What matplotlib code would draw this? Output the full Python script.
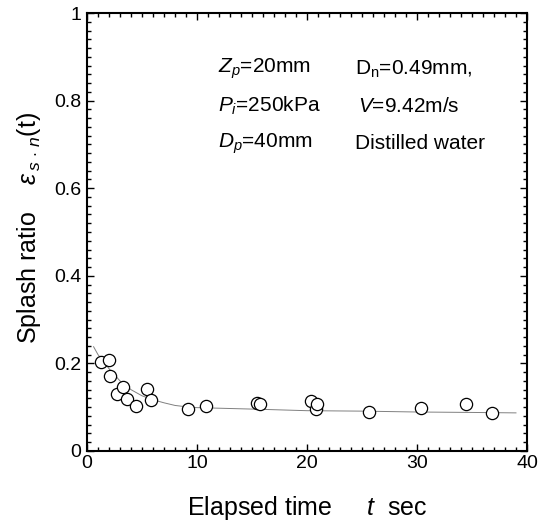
import matplotlib
matplotlib.use("Agg")
import matplotlib.pyplot as plt
from matplotlib.ticker import MultipleLocator

plt.rcParams['font.family'] = ['Liberation Sans', 'DejaVu Sans']
plt.rcParams['mathtext.fontset'] = 'custom'
plt.rcParams['mathtext.rm'] = 'Liberation Sans'
plt.rcParams['mathtext.it'] = 'Liberation Sans:italic'

# measured splash ratio
t_meas = [1.25, 2.0, 2.1, 2.7, 3.3, 3.6, 4.5, 5.5, 5.8, 9.15, 10.8,
          15.5, 15.7, 20.4, 20.8, 20.9, 25.6, 30.4, 34.5, 36.8]
eps_meas = [0.204, 0.208, 0.172, 0.130, 0.145, 0.118, 0.103, 0.142, 0.116, 0.096, 0.103,
            0.110, 0.107, 0.115, 0.097, 0.107, 0.088, 0.099, 0.108, 0.086]

# fitted trend curve
t_fit = [0.6, 1, 2, 3, 4, 5, 6, 7, 8, 9, 10, 13, 16, 20, 25, 30, 35, 39]
eps_fit = [0.238, 0.220, 0.188, 0.160, 0.140, 0.126, 0.117, 0.110, 0.104, 0.101,
           0.099, 0.097, 0.095, 0.092, 0.091, 0.089, 0.088, 0.087]

x_ticks = [0, 10, 20, 30, 40]
y_ticks = [0, 0.2, 0.4, 0.6, 0.8, 1]
y_ticklabels = ['0', '0.2', '0.4', '0.6', '0.8', '1']

fig = plt.figure(figsize=(5.51, 5.23), dpi=100)
ax = fig.add_axes([0.1579, 0.1377, 0.7985, 0.8374])

ax.plot(t_fit, eps_fit, color='#808080', linewidth=0.7, zorder=2)
ax.plot(t_meas, eps_meas, linestyle='none', marker='o', markersize=8.8,
        markerfacecolor='white', markeredgecolor='black', markeredgewidth=0.9, zorder=3)

ax.set_xlim(0, 40)
ax.set_ylim(0, 1)
ax.set_xticks(x_ticks)
ax.set_xticklabels([str(v) for v in x_ticks])
ax.set_yticks(y_ticks)
ax.set_yticklabels(y_ticklabels)
ax.xaxis.set_minor_locator(MultipleLocator(1))
ax.yaxis.set_minor_locator(MultipleLocator(0.02))
ax.tick_params(which='both', direction='in', top=True, right=True, labelsize=14, width=1.0)
ax.tick_params(which='major', length=5)
ax.tick_params(axis='y', which='major', pad=4)
ax.tick_params(axis='x', which='major', pad=3)
ax.tick_params(which='minor', length=3)
for s in ax.spines.values():
    s.set_linewidth(1.5)

ax.set_xlabel(r'Elapsed time     $t$  sec', fontsize=18, labelpad=16)
ax.set_ylabel(r'Splash ratio    $\varepsilon_{\,s\,\cdot\,n}$(t)', fontsize=18)
ax.yaxis.set_label_coords(-0.101, 0.51)

kw = dict(transform=ax.transAxes, fontsize=15, va='center', ha='left')
ax.text(0.298, 0.872, r'$Z_p$=20mm', **kw)
ax.text(0.298, 0.787, r'$P_i$=250kPa', **kw)
ax.text(0.298, 0.702, r'$D_p$=40mm', **kw)
ax.text(0.61, 0.872, r'D$_{\rm n}$=0.49mm,', **kw)
ax.text(0.615, 0.787, r'$V$=9.42m/s', **kw)
ax.text(0.61, 0.702, 'Distilled water', **kw)

fig.savefig('out.png', dpi=100)
